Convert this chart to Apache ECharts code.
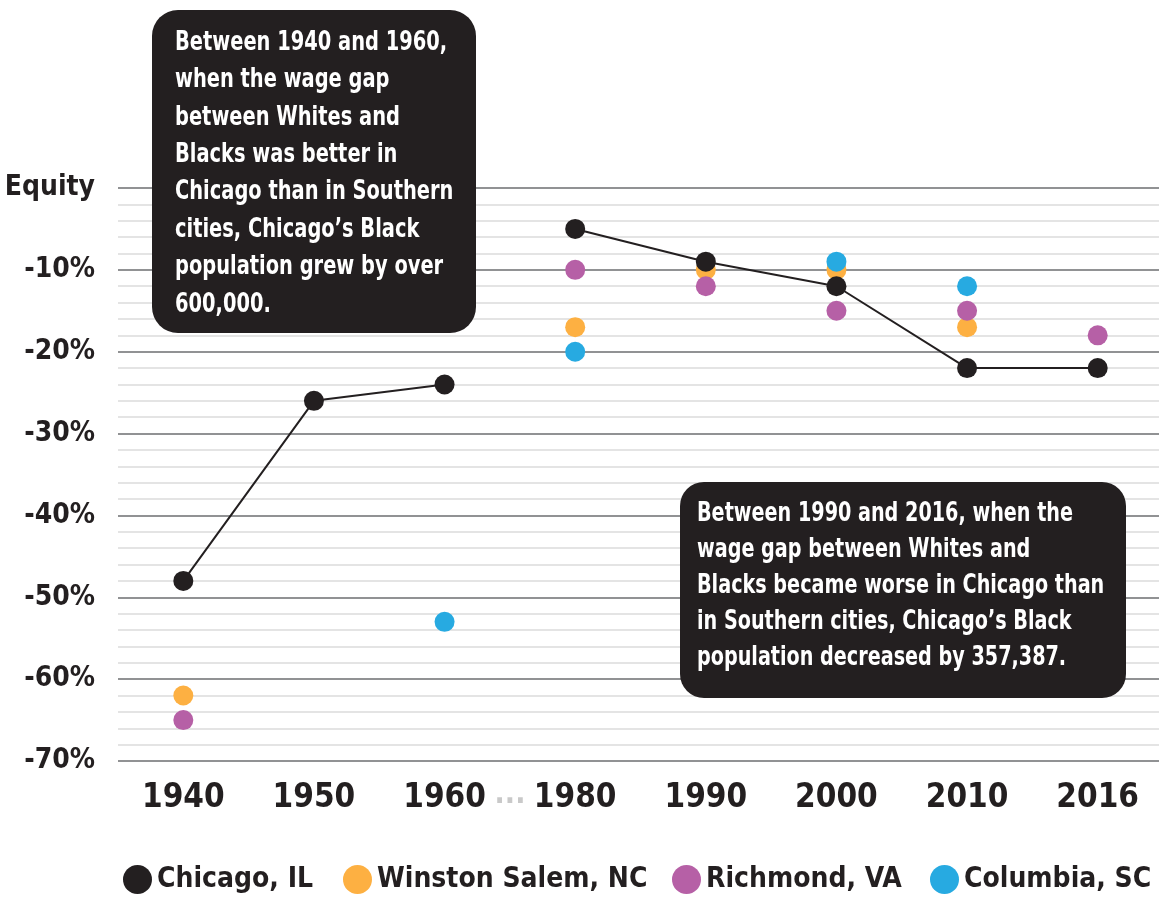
<!DOCTYPE html>
<html>
<head>
<meta charset="utf-8">
<title>Black-White wage gap: Chicago vs. Southern cities</title>
<script src="https://cdn.jsdelivr.net/npm/echarts@6/dist/echarts.min.js"></script>
<style>
  html, body { margin: 0; padding: 0; background: #ffffff; }
  #chart { width: 1159px; height: 899px; }
</style>
</head>
<body>
<div id="chart"></div>
<script>
// Census years on the category axis (1970 is not part of the series)
const years = ['1940', '1950', '1960', '1980', '1990', '2000', '2010', '2016'];
const gapAfter = '1960';

// Wage gap between Black and White workers, percent (0 = equity)
const chicago      = [-48, -26, -24,  -5,  -9, -12, -22, -22];
const winstonSalem = [-62, null, null, -17, -10, -10, -17, null];
const richmond     = [-65, null, null, -10, -12, -15, -15, -18];
const columbia     = [null, null, -53, -20, null, -9, -12, null];

// Y-axis tick range
const yMin = -70, yMax = 0, yStep = 10;

const seriesNames = ['Chicago, IL', 'Winston Salem, NC', 'Richmond, VA', 'Columbia, SC'];
const colors = {
  'Chicago, IL': '#231f20',
  'Winston Salem, NC': '#fdb042',
  'Richmond, VA': '#b660a6',
  'Columbia, SC': '#27aae1'
};

const noteEarly = [
  'Between 1940 and 1960,',
  'when the wage gap',
  'between Whites and',
  'Blacks was better in',
  'Chicago than in Southern',
  'cities, Chicago\u2019s Black',
  'population grew by over',
  '600,000.'
];
const noteLate = [
  'Between 1990 and 2016, when the',
  'wage gap between Whites and',
  'Blacks became worse in Chicago than',
  'in Southern cities, Chicago\u2019s Black',
  'population decreased by 357,387.'
];

const FONT = "'Liberation Sans Narrow', 'DejaVu Sans Condensed', 'Arial Narrow', sans-serif";
const INK = '#231f20';

const toSeriesData = arr => arr.map(v => (v === null ? '-' : v));

// Chicago is drawn as two connected runs, broken across the missing 1970 decade
const cut = years.indexOf(gapAfter) + 1;
const chicagoRunA = chicago.map((v, i) => (i < cut ? v : '-'));
const chicagoRunB = chicago.map((v, i) => (i >= cut ? v : '-'));

function dotSeries(name, values) {
  return {
    name: name,
    type: 'scatter',
    data: toSeriesData(values),
    symbol: 'circle',
    symbolSize: 20,
    itemStyle: { color: colors[name], opacity: 1 },
    z: 3
  };
}

function chicagoRun(values) {
  return {
    name: 'Chicago, IL',
    type: 'line',
    data: values,
    symbol: 'circle',
    symbolSize: 20,
    showAllSymbol: true,
    itemStyle: { color: INK, borderWidth: 0 },
    lineStyle: { color: INK, width: 2 },
    z: 5
  };
}

// Rounded black call-out with condensed white text, drawn above the grid lines
function noteBox(x, y, w, h, r, lines, padX, padY, lineHeight, squeeze) {
  return {
    type: 'group',
    x: x,
    y: y,
    children: [
      {
        type: 'rect',
        z: 100,
        shape: { x: 0, y: 0, width: w, height: h, r: r },
        style: { fill: INK }
      },
      {
        type: 'text',
        z: 101,
        x: padX,
        y: padY,
        scaleX: squeeze,
        style: {
          text: lines.join('\n'),
          fill: '#ffffff',
          font: 'bold 27px ' + FONT,
          lineHeight: lineHeight,
          verticalAlign: 'top',
          align: 'left'
        }
      }
    ]
  };
}

// One legend block per city so each entry sits at its own place on the row
const legendLefts = [118, 338, 667, 925];
const legends = seriesNames.map((name, i) => ({
  data: [name],
  icon: 'circle',
  left: legendLefts[i],
  top: 860,
  itemWidth: 29,
  itemHeight: 29,
  selectedMode: false,
  textStyle: { color: INK, fontSize: 28, fontWeight: 'bold', fontFamily: FONT }
}));

const chart = echarts.init(document.getElementById('chart'), null, { renderer: 'canvas' });

chart.setOption({
  animation: false,
  backgroundColor: '#ffffff',
  textStyle: { fontFamily: FONT },
  grid: { left: 118, right: -4, top: 188, bottom: 138, containLabel: false, outerBoundsMode: 'none' },
  legend: legends,
  xAxis: {
    type: 'category',
    data: years,
    boundaryGap: true,
    axisLine: { show: false },
    axisTick: { show: false },
    splitLine: { show: false },
    axisLabel: {
      color: INK,
      fontSize: 33,
      fontWeight: 'bold',
      fontFamily: FONT,
      margin: 21
    }
  },
  yAxis: {
    type: 'value',
    min: yMin,
    max: yMax,
    interval: yStep,
    axisLine: { show: false },
    axisTick: { show: false },
    splitLine: { show: true, lineStyle: { color: '#6d6e71', width: 1.5 } },
    minorTick: { show: false, splitNumber: 5 },
    minorSplitLine: { show: true, lineStyle: { color: '#dcdcdc', width: 1.5 } },
    axisLabel: {
      color: INK,
      fontSize: 28,
      fontWeight: 'bold',
      fontFamily: FONT,
      margin: 23,
      formatter: v => (v === 0 ? 'Equity' : v + '%')
    }
  },
  graphic: [
    noteBox(152, 10, 324, 323, 26, noteEarly, 23, 14, 37.4, 0.8),
    noteBox(680, 482, 446, 216, 24, noteLate, 17, 14, 36, 0.79),
    {
      type: 'text',
      x: 510,
      y: 810,
      z: 50,
      style: {
        text: '...',
        fill: '#c9c9c9',
        font: 'bold 30px ' + FONT,
        align: 'center',
        verticalAlign: 'bottom'
      }
    }
  ],
  series: [
    dotSeries('Winston Salem, NC', winstonSalem),
    dotSeries('Richmond, VA', richmond),
    dotSeries('Columbia, SC', columbia),
    chicagoRun(chicagoRunA),
    chicagoRun(chicagoRunB)
  ]
});
</script>
</body>
</html>
